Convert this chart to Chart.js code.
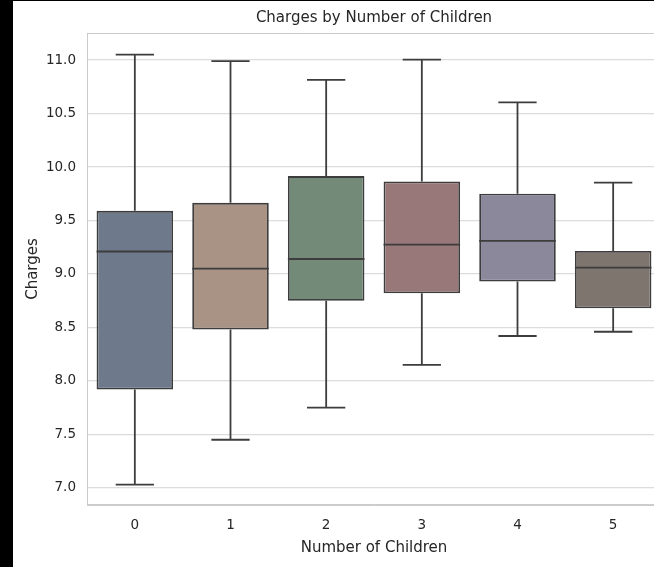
<!DOCTYPE html>
<html><head><meta charset="utf-8">
<script src="https://cdn.jsdelivr.net/npm/chart.js@4"></script>
<style>
html,body{margin:0;padding:0;background:#000;overflow:hidden;width:654px;height:567px}
#wrap{position:absolute;left:13px;top:1px;width:660px;height:566px;background:#fff;overflow:hidden}
canvas{display:block}
</style></head><body><div id="wrap"><canvas id="c" width="660" height="566"></canvas></div>
<script>
const categories = ['0', '1', '2', '3', '4', '5'];
const whiskerLow = [7.03, 7.45, 7.75, 8.15, 8.42, 8.46];
const q1 = [7.92, 8.48, 8.75, 8.82, 8.93, 8.68];
const median = [9.21, 9.05, 9.14, 9.275, 9.31, 9.06];
const q3 = [9.59, 9.665, 9.915, 9.865, 9.75, 9.215];
const whiskerHigh = [11.05, 10.99, 10.815, 11.005, 10.605, 9.855];
const yTicks = [7.0, 7.5, 8.0, 8.5, 9.0, 9.5, 10.0, 10.5, 11.0];
const boxColors = ['#6e7a8c', '#a89384', '#738a78', '#987879', '#8c889c', '#7f756f'];
const chartTitle = 'Charges by Number of Children';

const edge = '#3d3d3d';
const fontFam = '"DejaVu Sans", sans-serif';

const boxPlugin = {
  id: 'boxPlugin',
  beforeDatasetsDraw(chart) {
    const {ctx, chartArea: a} = chart;
    ctx.save();
    ctx.strokeStyle = '#cccccc';
    ctx.lineWidth = 1;
    ctx.strokeRect(a.left + 0.5, a.top + 0.5, a.right - a.left - 1, a.bottom - a.top - 1);
    ctx.restore();
  },
  afterDatasetsDraw(chart) {
    const ctx = chart.ctx;
    const xs = chart.scales.x, ys = chart.scales.y;
    const meta = chart.getDatasetMeta(0);
    ctx.save();
    ctx.strokeStyle = edge;
    ctx.lineWidth = 1.8;
    categories.forEach((c, i) => {
      const x = xs.getPixelForValue(i);
      const w = meta.data[i].width;
      const capW = w * 0.5;
      const yHi = ys.getPixelForValue(whiskerHigh[i]);
      const yLo = ys.getPixelForValue(whiskerLow[i]);
      const yQ1 = ys.getPixelForValue(q1[i]);
      const yQ3 = ys.getPixelForValue(q3[i]);
      const yMed = ys.getPixelForValue(median[i]);
      ctx.beginPath();
      ctx.moveTo(x, yQ3); ctx.lineTo(x, yHi);
      ctx.moveTo(x - capW / 2, yHi); ctx.lineTo(x + capW / 2, yHi);
      ctx.moveTo(x, yQ1); ctx.lineTo(x, yLo);
      ctx.moveTo(x - capW / 2, yLo); ctx.lineTo(x + capW / 2, yLo);
      ctx.moveTo(x - w / 2, yMed); ctx.lineTo(x + w / 2, yMed);
      ctx.stroke();
    });
    ctx.restore();
  },
  afterDraw(chart) {
    const {ctx, chartArea: a} = chart;
    ctx.save();
    ctx.fillStyle = '#262626';
    ctx.font = '15px ' + fontFam;
    ctx.textAlign = 'center';
    ctx.textBaseline = 'middle';
    ctx.fillText(chartTitle, (a.left + a.right) / 2, 17);
    ctx.restore();
  }
};

new Chart(document.getElementById('c'), {
  type: 'bar',
  data: {
    labels: categories,
    datasets: [{
      data: categories.map((c, i) => [q1[i], q3[i]]),
      backgroundColor: boxColors,
      borderColor: edge,
      borderWidth: 1.8,
      borderSkipped: false,
      barPercentage: 1,
      categoryPercentage: 0.8
    }]
  },
  options: {
    responsive: false,
    animation: false,
    layout: {padding: {top: 32, right: 12, bottom: 0, left: 0}},
    plugins: {
      legend: {display: false},
      tooltip: {enabled: false},
      title: {display: false}
    },
    scales: {
      x: {
        offset: true,
        grid: {display: false, drawTicks: false},
        border: {display: true, color: '#cccccc'},
        ticks: {color: '#262626', font: {family: fontFam, size: 13.5}, padding: 12},
        title: {display: true, text: 'Number of Children', color: '#262626',
                font: {family: fontFam, size: 15}, padding: {top: 0, bottom: 10}},
        afterFit(s) { s.height = 62; }
      },
      y: {
        min: 6.84,
        max: 11.253,
        afterBuildTicks(s) { s.ticks = yTicks.map(v => ({value: v})); },
        grid: {color: '#dcdcdc', drawTicks: false, lineWidth: 1.2},
        border: {display: true, color: '#cccccc'},
        ticks: {color: '#262626', font: {family: fontFam, size: 13.5}, padding: 11,
                callback: v => Number(v).toFixed(1)},
        title: {display: true, text: 'Charges', color: '#262626',
                font: {family: fontFam, size: 15}, padding: {top: 11, bottom: 0}},
        afterFit(s) { s.width = 74; }
      }
    }
  },
  plugins: [boxPlugin]
});
</script>
</body></html>
